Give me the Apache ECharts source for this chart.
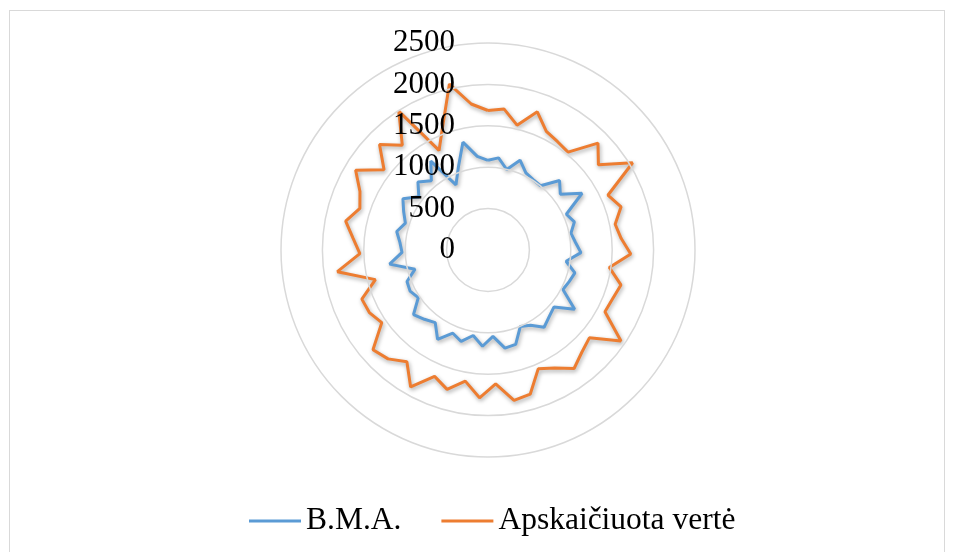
<!DOCTYPE html>
<html>
<head>
<meta charset="utf-8">
<script src="https://cdn.jsdelivr.net/npm/echarts@6/dist/echarts.min.js"></script>
<style>
  html, body { margin: 0; padding: 0; background: #fff; overflow: hidden; }
  #frame { position: absolute; left: 9px; top: 10px; width: 936px; height: 560px; border: 1px solid #d9d9d9; box-sizing: border-box; }
  #chart { position: absolute; left: 0; top: 0; width: 955px; height: 552px; }
</style>
</head>
<body>
<div id="frame"></div>
<div id="chart"></div>
<script>
const seriesNames = ['B.M.A.', 'Apskaičiuota vertė'];
const radiusTicks = [0, 500, 1000, 1500, 2000, 2500];
const bma = [1083, 1120, 998, 1152, 1037, 1010, 1002, 1205, 1103, 1327,
             1040, 1097, 1022, 1061, 1123, 953, 1085, 1052, 1023, 1268,
             1053, 1093, 1153, 1045, 1003, 1187, 1202, 1045, 1164, 1048,
             1151, 1091, 1239, 1084, 1136, 1190, 1020, 1064, 1050, 911,
             1201, 1039, 1068, 1125, 1049, 1120, 1200, 1055, 1180, 1081,
             1277, 877, 1064, 1337, 1138];
const apskaiciuota = [1685, 1713, 1548, 1772, 1597, 1555, 1527, 1852, 1684, 2040,
                      1592, 1690, 1567, 1615, 1725, 1480, 1660, 1617, 1597, 1946,
                      1620, 1676, 1769, 1636, 1558, 1813, 1844, 1620, 1788, 1607,
                      1754, 1657, 1900, 1667, 1785, 1838, 1554, 1620, 1635, 1406,
                      1838, 1548, 1635, 1754, 1627, 1700, 1867, 1585, 1827, 1635,
                      1994, 1340, 1615, 2058, 1775];

const N = bma.length;
function closed(arr) {
  const d = arr.map((v, i) => [v, i]);
  d.push([arr[0], N]);
  return d;
}
const colors = ['#5B9BD5', '#ED7D31'];
const chart = echarts.init(document.getElementById('chart'));
const font = 'Liberation Serif, Times New Roman, serif';
const shadow = { shadowColor: 'rgba(0,0,0,0.35)', shadowBlur: 4, shadowOffsetX: 1, shadowOffsetY: 2 };
chart.setOption({
  animation: false,
  polar: { center: [488, 250], radius: 207 },
  angleAxis: {
    type: 'value', min: 0, max: N, startAngle: 90, clockwise: true,
    axisLine: { show: false }, axisTick: { show: false }, axisLabel: { show: false },
    splitLine: { show: false }
  },
  radiusAxis: {
    type: 'value', min: radiusTicks[0], max: radiusTicks[radiusTicks.length - 1], interval: 500,
    axisLine: { show: false }, axisTick: { show: false },
    axisLabel: { fontFamily: font, fontSize: 31, color: '#000', margin: 33, formatter: v => String(v) },
    splitLine: { show: true, lineStyle: { color: '#d9d9d9', width: 1.5 } },
    z: 10
  },
  legend: {
    left: 244, top: 500,
    itemWidth: 52, itemHeight: 3, itemGap: 40,
    icon: 'rect',
    textStyle: { fontFamily: font, fontSize: 31.5, color: '#000' },
    data: seriesNames
  },
  series: [
    { name: seriesNames[0], type: 'line', coordinateSystem: 'polar', data: closed(bma),
      showSymbol: false, symbol: 'none', color: colors[0],
      lineStyle: Object.assign({ width: 3, color: colors[0] }, shadow) },
    { name: seriesNames[1], type: 'line', coordinateSystem: 'polar', data: closed(apskaiciuota),
      showSymbol: false, symbol: 'none', color: colors[1],
      lineStyle: Object.assign({ width: 3, color: colors[1] }, shadow) }
  ]
});
</script>
</body>
</html>
